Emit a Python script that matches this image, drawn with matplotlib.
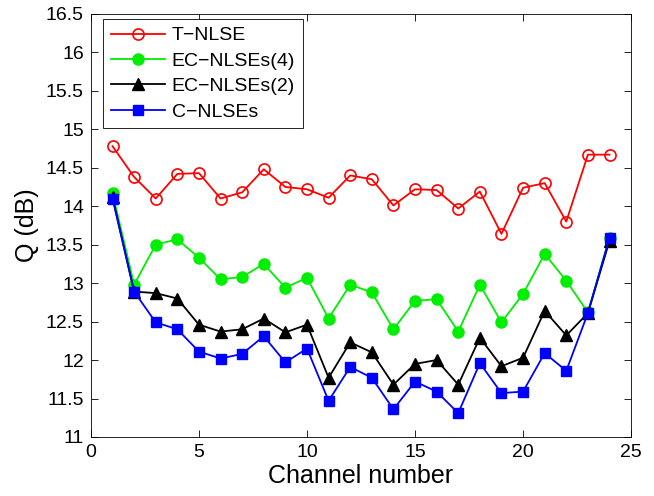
import matplotlib
matplotlib.use('Agg')
import matplotlib.pyplot as plt

plt.rcParams['font.family'] = ['Liberation Sans', 'DejaVu Sans']

channels = list(range(1, 25))
t_nlse = [14.78, 14.38, 14.10, 14.42, 14.43, 14.10, 14.18, 14.48, 14.25, 14.22, 14.11, 14.40,
          14.35, 14.01, 14.22, 14.21, 13.97, 14.19, 13.64, 14.24, 14.30, 13.80, 14.67, 14.67]
ec_nlses4 = [14.17, 12.98, 13.50, 13.57, 13.33, 13.05, 13.08, 13.25, 12.94, 13.07, 12.54, 12.98,
             12.88, 12.40, 12.77, 12.79, 12.37, 12.98, 12.49, 12.86, 13.38, 13.03, 12.62, 13.59]
ec_nlses2 = [14.12, 12.89, 12.87, 12.80, 12.46, 12.37, 12.40, 12.54, 12.36, 12.46, 11.77, 12.23,
             12.10, 11.68, 11.95, 12.00, 11.68, 12.29, 11.92, 12.03, 12.64, 12.32, 12.61, 13.55]
c_nlses = [14.10, 12.89, 12.49, 12.40, 12.11, 12.02, 12.08, 12.31, 11.97, 12.15, 11.47, 11.91,
           11.77, 11.36, 11.72, 11.59, 11.31, 11.96, 11.57, 11.59, 12.09, 11.86, 12.61, 13.59]

fig = plt.figure(figsize=(6.54, 4.96), dpi=100)
ax = fig.add_axes([0.139, 0.119, 0.826, 0.853])

ax.plot(channels, t_nlse, '-o', color='#ff0000', mfc='none', mec='#ff0000', ms=8, mew=1.2, lw=1.3,
        label='T\u2212NLSE')
ax.plot(channels, ec_nlses4, '-o', color='#00ee00', ms=8, lw=1.3, label='EC\u2212NLSEs(4)')
ax.plot(channels, ec_nlses2, '-^', color='black', ms=8, lw=1.3, label='EC\u2212NLSEs(2)')
ax.plot(channels, c_nlses, '-s', color='#0000ff', ms=7, lw=1.3, label='C\u2212NLSEs')

ax.set_xlim(0, 25)
ax.set_ylim(11, 16.5)
ax.set_xticks(range(0, 26, 5))
ax.set_yticks([11, 11.5, 12, 12.5, 13, 13.5, 14, 14.5, 15, 15.5, 16, 16.5])
ax.set_yticklabels(['11', '11.5', '12', '12.5', '13', '13.5', '14', '14.5', '15', '15.5', '16', '16.5'])
ax.tick_params(direction='in', top=True, right=True, labelsize=14, length=5, width=0.6, pad=5)
for s in ax.spines.values():
    s.set_linewidth(0.6)

ax.set_xlabel('Channel number', fontsize=18, labelpad=2)
ax.set_ylabel('Q (dB)', fontsize=18, labelpad=5)

leg = ax.legend(loc='upper left', bbox_to_anchor=(0.022, 0.988), fontsize=14, handlelength=2.8,
                handletextpad=0.35, labelspacing=0.4, borderaxespad=0, fancybox=False,
                framealpha=1, edgecolor='black', borderpad=0.4)
leg.get_frame().set_linewidth(0.6)

fig.savefig('out.png', dpi=100)
